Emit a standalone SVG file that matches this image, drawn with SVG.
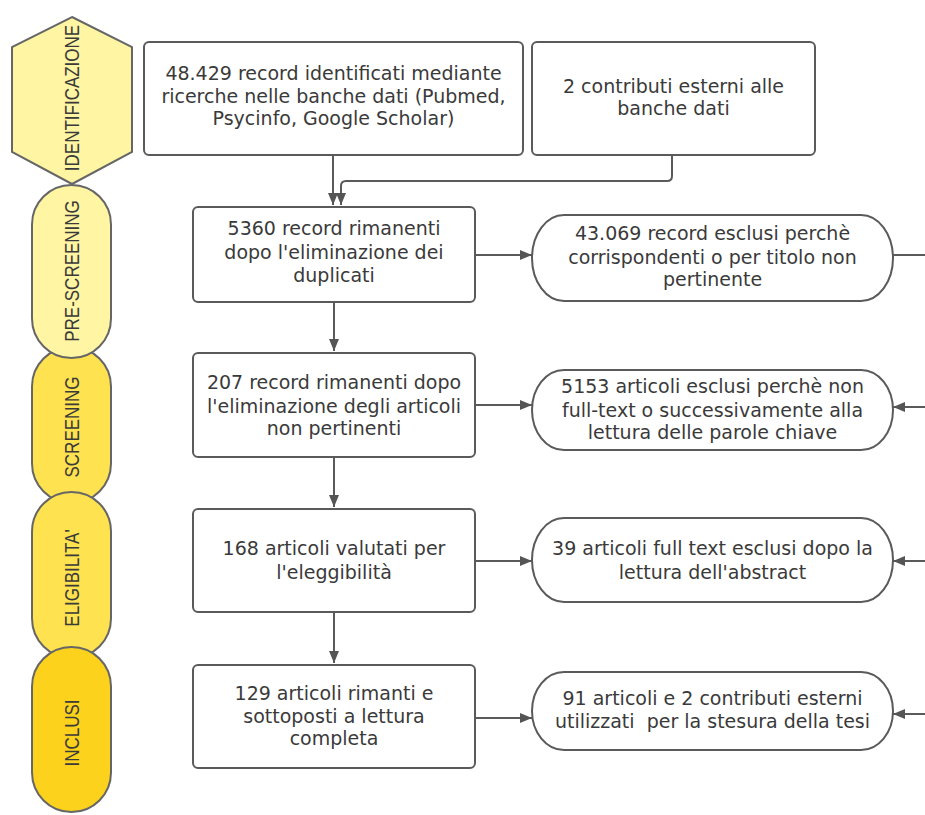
<svg xmlns="http://www.w3.org/2000/svg" width="925" height="815" viewBox="0 0 925 815">
<style>
  .phase { stroke: #666666; stroke-width: 2; }
  .ph-light { fill: #FFF5A3; }
  .ph-mid { fill: #FFE24F; }
  .ph-dark { fill: #FCD21C; }
  .ptxt { font-family: "Liberation Sans", Arial, sans-serif; font-size: 17px; fill: #3a3a3a; text-anchor: middle; dominant-baseline: central; }
  .box { fill: #ffffff; stroke: #5a5a5a; stroke-width: 2; }
  .txt { font-family: "DejaVu Sans", Verdana, sans-serif; font-size: 19px; fill: #3a3a3a; text-anchor: middle; }
  .conn { fill: none; stroke: #5a5a5a; stroke-width: 2; }
</style>
<defs>
  <marker id="ah" viewBox="0 0 12 10" refX="12" refY="5" markerWidth="12" markerHeight="10" markerUnits="userSpaceOnUse" orient="auto">
    <path d="M0,0 L12,5 L0,10 Z" fill="#555555"/>
  </marker>
</defs>
<rect width="925" height="815" fill="#ffffff"/>

<g id="phase-identificazione">
  <polygon class="phase ph-light" points="72,17 132,47 132,152 72,184 12,152 12,47"/>
  <text class="ptxt" transform="translate(72,98) rotate(-90) scale(1,1.18)">IDENTIFICAZIONE</text>
</g>
<g id="phase-screening">
  <rect class="phase ph-mid" x="32" y="347" width="79" height="156" rx="39.5" ry="39.5"/>
  <text class="ptxt" transform="translate(72,427) rotate(-90) scale(1,1.18)">SCREENING</text>
</g>
<g id="phase-prescreening">
  <rect class="phase ph-light" x="32" y="185" width="79" height="173" rx="39.5" ry="39.5"/>
  <text class="ptxt" transform="translate(72,271) rotate(-90) scale(1,1.18)">PRE-SCREENING</text>
</g>
<g id="phase-eligibilita">
  <rect class="phase ph-mid" x="32" y="492" width="79" height="166" rx="39.5" ry="39.5"/>
  <text class="ptxt" transform="translate(72,578) rotate(-90) scale(1,1.18)">ELIGIBILITA'</text>
</g>
<g id="phase-inclusi">
  <rect class="phase ph-dark" x="32" y="647" width="79" height="165" rx="39.5" ry="39.5"/>
  <text class="ptxt" transform="translate(72,733) rotate(-90) scale(1,1.18)">INCLUSI</text>
</g>

<g id="connectors">
  <path class="conn" d="M333,155 L333,205" marker-end="url(#ah)"/>
  <path class="conn" d="M672,155 L672,176 Q672,181 667,181 L346,181 Q341,181 341,186 L341,205" marker-end="url(#ah)"/>
  <path class="conn" d="M334,302 L334,351" marker-end="url(#ah)"/>
  <path class="conn" d="M334,457 L334,507" marker-end="url(#ah)"/>
  <path class="conn" d="M334,612 L334,663" marker-end="url(#ah)"/>
  <path class="conn" d="M475,255 L532,255" marker-end="url(#ah)"/>
  <path class="conn" d="M475,405 L532,405" marker-end="url(#ah)"/>
  <path class="conn" d="M475,561 L532,561" marker-end="url(#ah)"/>
  <path class="conn" d="M475,718 L532,718" marker-end="url(#ah)"/>
  <path class="conn" d="M893,255 L925,255"/>
  <path class="conn" d="M925,407 L893,407" marker-end="url(#ah)"/>
  <path class="conn" d="M925,561 L893,561" marker-end="url(#ah)"/>
  <path class="conn" d="M925,714 L893,714" marker-end="url(#ah)"/>
</g>

<g id="node-records-banche-dati">
  <rect class="box" x="144" y="42" width="379" height="113" rx="5"/>
  <text class="txt" x="333.5" y="80">48.429 record identificati mediante</text>
  <text class="txt" x="333.5" y="103">ricerche nelle banche dati (Pubmed,</text>
  <text class="txt" x="333.5" y="125">Psycinfo, Google Scholar)</text>
</g>
<g id="node-contributi-esterni">
  <rect class="box" x="532" y="42" width="283" height="113" rx="5"/>
  <text class="txt" x="673.5" y="93">2 contributi esterni alle</text>
  <text class="txt" x="673.5" y="115">banche dati</text>
</g>
<g id="node-5360">
  <rect class="box" x="193" y="207" width="282" height="95" rx="5"/>
  <text class="txt" x="334" y="235">5360 record rimanenti</text>
  <text class="txt" x="334" y="259">dopo l'eliminazione dei</text>
  <text class="txt" x="334" y="282">duplicati</text>
</g>
<g id="node-207">
  <rect class="box" x="193" y="353" width="282" height="104" rx="5"/>
  <text class="txt" x="334" y="389">207 record rimanenti dopo</text>
  <text class="txt" x="334" y="413">l'eliminazione degli articoli</text>
  <text class="txt" x="334" y="435">non pertinenti</text>
</g>
<g id="node-168">
  <rect class="box" x="193" y="509" width="282" height="103" rx="5"/>
  <text class="txt" x="334" y="555">168 articoli valutati per</text>
  <text class="txt" x="334" y="579">l'eleggibilità</text>
</g>
<g id="node-129">
  <rect class="box" x="193" y="665" width="282" height="103" rx="5"/>
  <text class="txt" x="334" y="700">129 articoli rimanti e</text>
  <text class="txt" x="334" y="723">sottoposti a lettura</text>
  <text class="txt" x="334" y="745">completa</text>
</g>
<g id="node-esclusi-43069">
  <rect class="box" x="532" y="215" width="361" height="86" rx="32" ry="43"/>
  <text class="txt" x="712.5" y="240">43.069 record esclusi perchè</text>
  <text class="txt" x="712.5" y="264">corrispondenti o per titolo non</text>
  <text class="txt" x="712.5" y="286">pertinente</text>
</g>
<g id="node-esclusi-5153">
  <rect class="box" x="532" y="370" width="361" height="80" rx="32" ry="40"/>
  <text class="txt" x="712.5" y="393">5153 articoli esclusi perchè non</text>
  <text class="txt" x="712.5" y="417">full-text o successivamente alla</text>
  <text class="txt" x="712.5" y="439">lettura delle parole chiave</text>
</g>
<g id="node-esclusi-39">
  <rect class="box" x="532" y="518" width="361" height="84" rx="32" ry="42"/>
  <text class="txt" x="712.5" y="555">39 articoli full text esclusi dopo la</text>
  <text class="txt" x="712.5" y="579">lettura dell'abstract</text>
</g>
<g id="node-utilizzati">
  <rect class="box" x="532" y="672" width="361" height="78" rx="32" ry="39"/>
  <text class="txt" x="712.5" y="705">91 articoli e 2 contributi esterni</text>
  <text class="txt" x="712.5" y="728" xml:space="preserve">utilizzati  per la stesura della tesi</text>
</g>
</svg>
